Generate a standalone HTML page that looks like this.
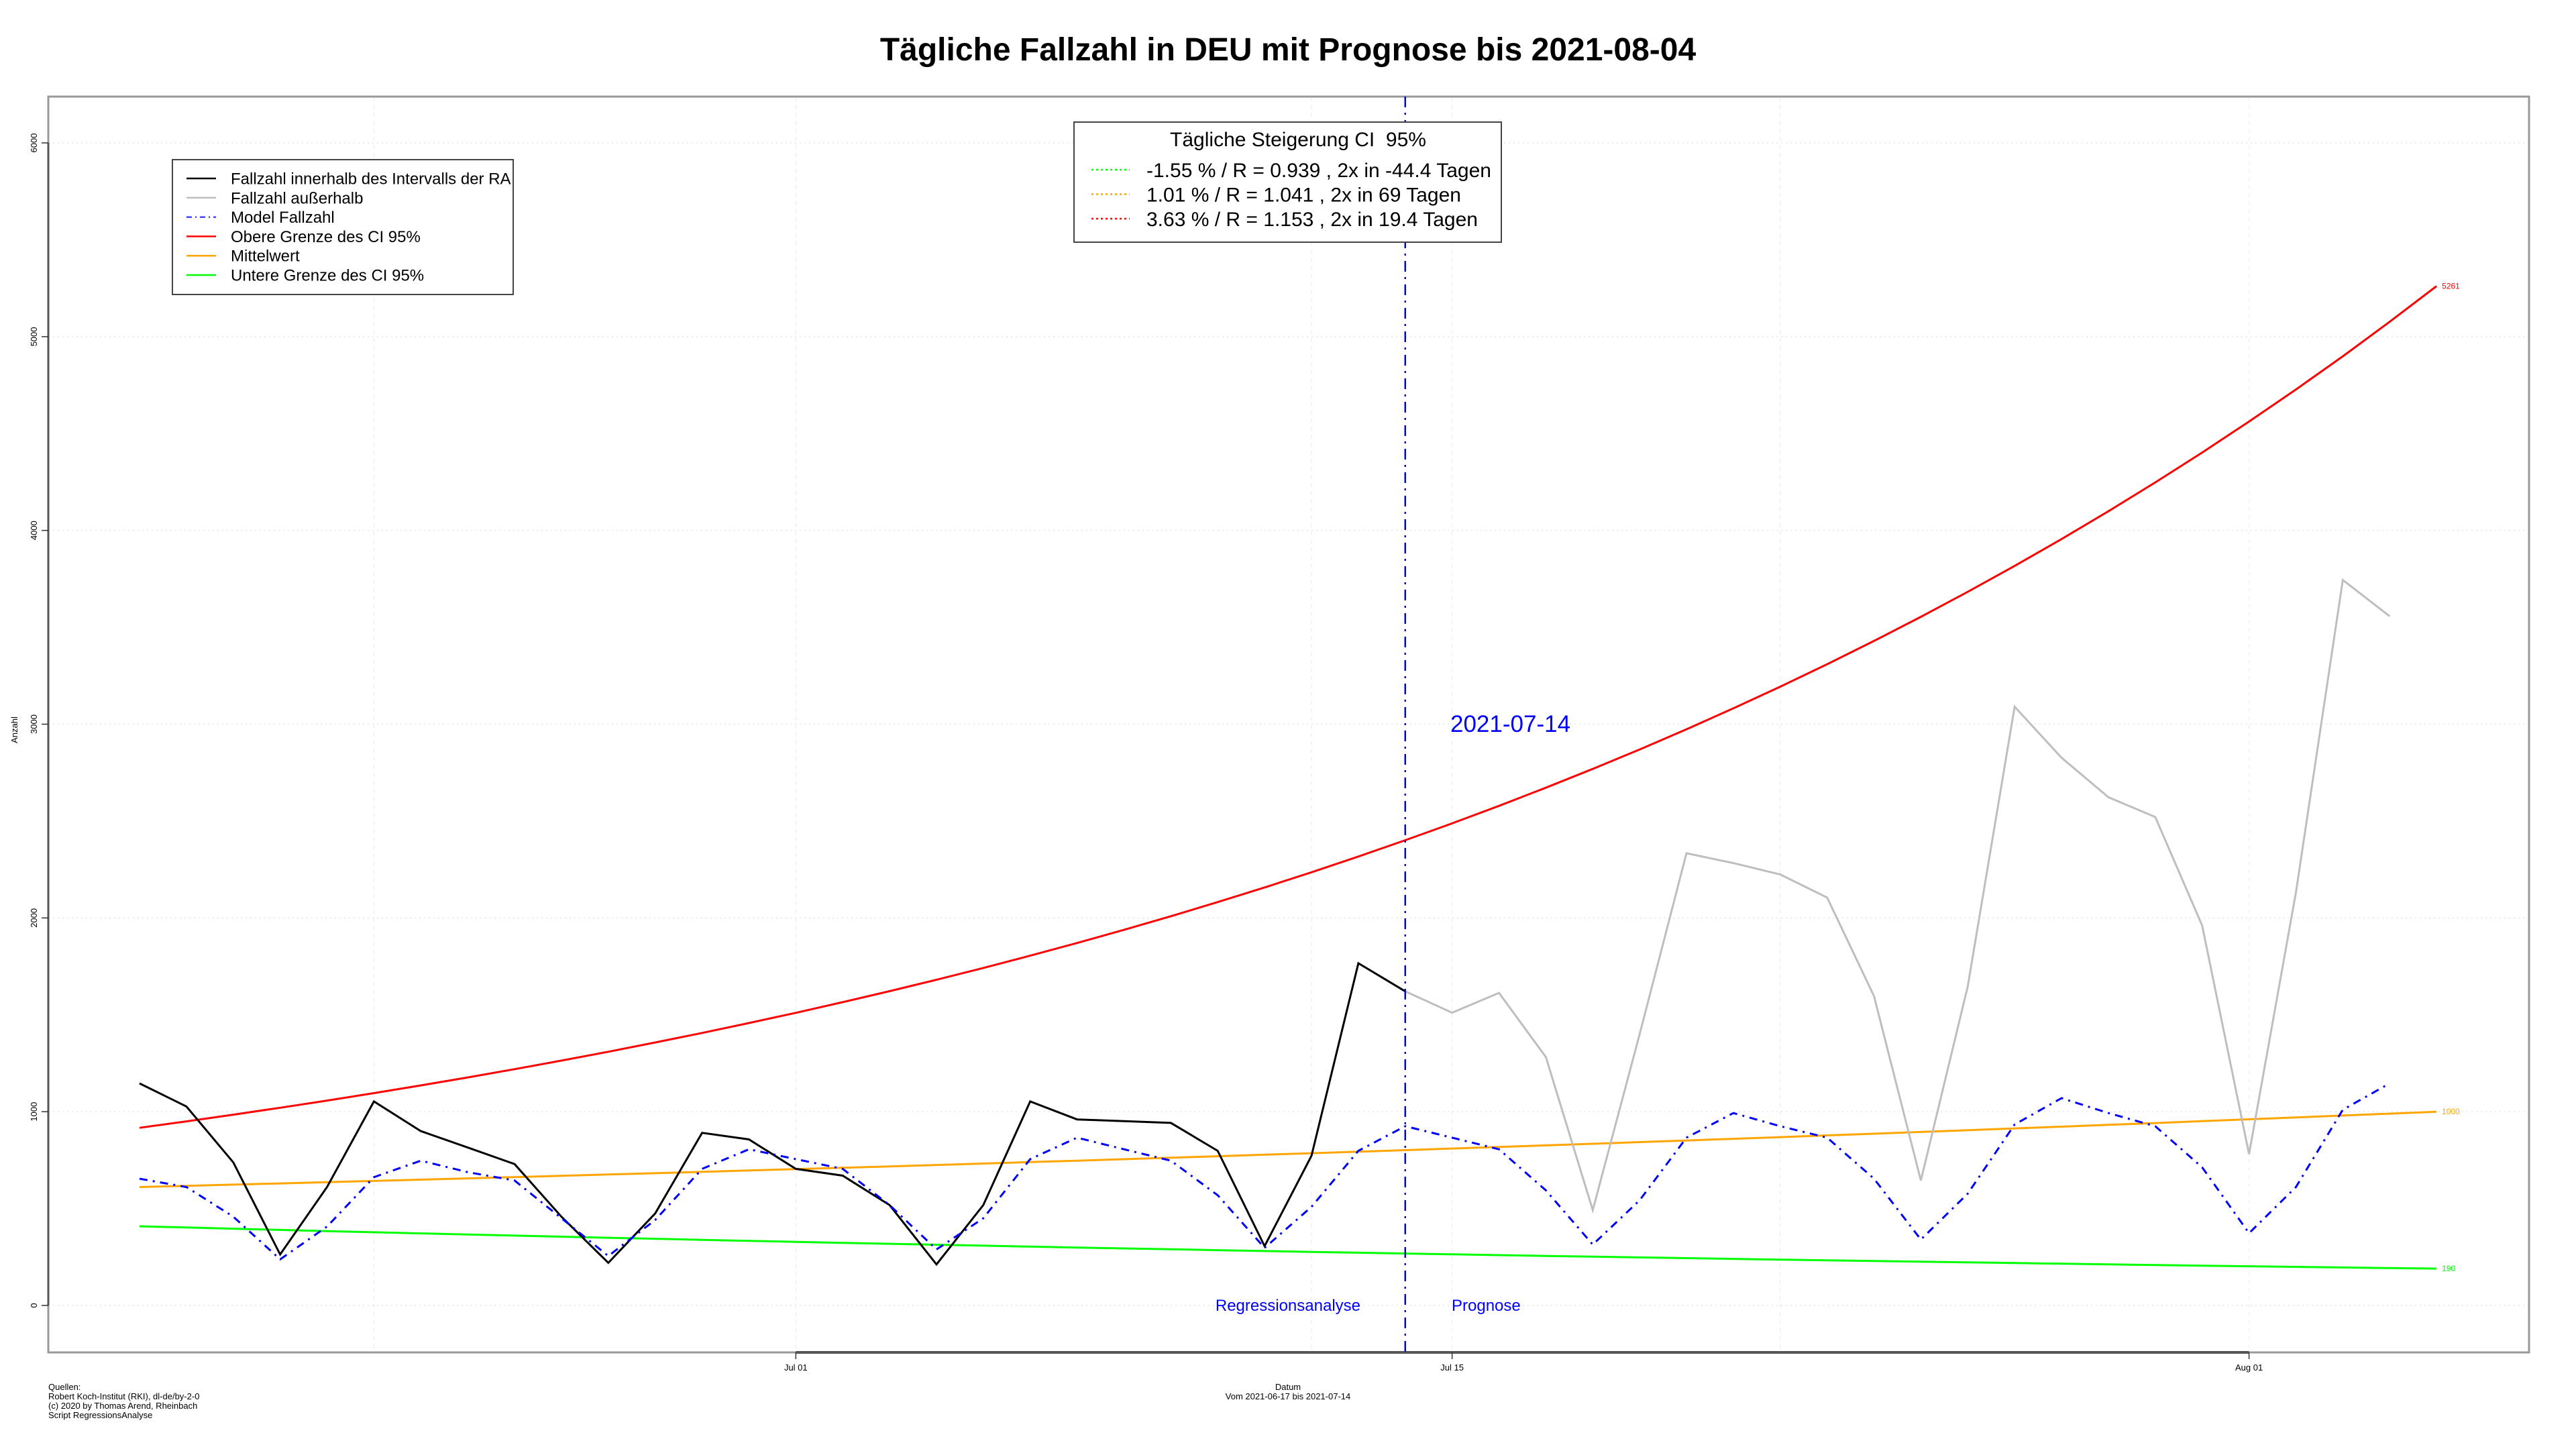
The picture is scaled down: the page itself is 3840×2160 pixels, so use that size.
<!DOCTYPE html>
<html><head><meta charset="utf-8"><style>
html,body{margin:0;padding:0;background:#fff;}
svg{display:block;font-family:"Liberation Sans",sans-serif;}
</style></head><body>
<svg id="chart" width="3840" height="2160" viewBox="0 0 3840 2160" xmlns="http://www.w3.org/2000/svg">
<rect x="0" y="0" width="3840" height="2160" fill="#fff"/>
<text x="1920" y="90" text-anchor="middle" font-size="48" font-weight="bold">Tägliche Fallzahl in DEU mit Prognose bis 2021-08-04</text>
<g id="grid"></g>
<rect x="72" y="144" width="3698" height="1872" fill="none" stroke="#999" stroke-width="3"/>
<g id="axes"></g>
<g id="series"></g>
<g id="legend1">
 <rect x="257" y="238" width="508" height="201" fill="#fff" stroke="#444" stroke-width="2"/>
</g>
<g id="legend2">
 <rect x="1601" y="182" width="637" height="179" fill="#fff" stroke="#444" stroke-width="2"/>
 <text x="1935" y="218" text-anchor="middle" font-size="30">Tägliche Steigerung CI&#160; 95%</text>
</g>
<text x="2162" y="1091" font-size="35" fill="#0000ff">2021-07-14</text>
<text x="2028" y="1954" text-anchor="end" font-size="24" fill="#0000ff">Regressionsanalyse</text>
<text x="2164" y="1954" font-size="24" fill="#0000ff">Prognose</text>
<text x="1920" y="2072" text-anchor="middle" font-size="13">Datum</text>
<text x="1920" y="2086" text-anchor="middle" font-size="13">Vom 2021-06-17 bis 2021-07-14</text>
<g font-size="13">
 <text x="72" y="2072">Quellen:</text>
 <text x="72" y="2086">Robert Koch-Institut (RKI), dl-de/by-2-0</text>
 <text x="72" y="2100">(c) 2020 by Thomas Arend, Rheinbach</text>
 <text x="72" y="2114">Script RegressionsAnalyse</text>
</g>
<text transform="translate(26,1088) rotate(-90)" text-anchor="middle" font-size="13">Anzahl</text>
</svg>
<script>
// ---- data ----
const startDate = "2021-06-17";
const observedIn = [1146,1027,738,263,611,1053,900,815,730,458,220,475,891,857,705,670,518,212,518,1053,960,951,942,798,306,772,1766,1621];
const observedOut = [1621,1511,1613,1282,492,1400,2334,2283,2224,2105,1596,645,1647,3090,2827,2623,2521,1961,781,2131,3744,3557];
const modelValues = [654,611,458,238,407,662,747,688,645,450,255,441,705,806,755,705,518,289,450,755,866,806,747,569,297,509,798,925,866,806,594,314,543,866,993,925,866,654,340,577,934,1070,993,925,713,373,611,1010,1146];
const ciRates = [-1.55, 1.01, 3.63];          // % per day (lower, mean, upper)
const ciEndValues = [190, 1000, 5261];        // value on last curve day
const ciColors = ["#00ff00","#ffa500","#ff0000"];
const ciNames = ["lower-ci","mean","upper-ci"];
const ciLegendText = ["-1.55 % / R = 0.939 , 2x in -44.4 Tagen","1.01 % / R = 1.041 , 2x in 69 Tagen","3.63 % / R = 1.153 , 2x in 19.4 Tagen"];
const yTicks = [0,1000,2000,3000,4000,5000,6000];
const xTickLabels = ["Jul 01","Jul 15","Aug 01"];
const xTickDays = [14,28,45];
const curveDays = 49;
const splitDay = 27;

// ---- scales ----
const X0 = 208, PXD = 69.88;
const Y0 = 1946, PXV = 0.28883;
const x = d => X0 + d*PXD;
const y = v => Y0 - v*PXV;
const NS = "http://www.w3.org/2000/svg";
function mk(tag, attrs, parent){const e=document.createElementNS(NS,tag);for(const k in attrs)e.setAttribute(k,attrs[k]);parent.appendChild(e);return e;}
const grid=document.getElementById('grid'), axes=document.getElementById('axes'), series=document.getElementById('series');

// grid
yTicks.forEach(t=>{
 const l=mk('line',{x1:72,x2:3770,y1:y(t),y2:y(t),stroke:'#e4e4e4','stroke-width':1.5,'stroke-dasharray':'2,5'},grid);
 
 
});
[5,14,25,28,35,45].forEach(d=>{
 const l=mk('line',{x1:x(d),x2:x(d),y1:144,y2:2016,stroke:'#f0f0f0','stroke-width':1.5,'stroke-dasharray':'6,6'},grid);
 
 
});
// axes
mk('line',{x1:72,x2:72,y1:y(0),y2:y(6000),stroke:'#555','stroke-width':3},axes);
mk('line',{x1:x(xTickDays[0]),x2:x(xTickDays[xTickDays.length-1]),y1:2016,y2:2016,stroke:'#555','stroke-width':4},axes);
yTicks.forEach(t=>{
 mk('line',{x1:62,x2:72,y1:y(t),y2:y(t),stroke:'#333','stroke-width':1.5},axes);
 const tx=mk('text',{transform:`translate(55,${y(t)}) rotate(-90)`,'text-anchor':'middle','font-size':13},axes);
 tx.textContent=t;
 
 
});
xTickDays.forEach((d,i)=>{
 mk('line',{x1:x(d),x2:x(d),y1:2016,y2:2026,stroke:'#333','stroke-width':1.5},axes);
 const tx=mk('text',{x:x(d),y:2043,'text-anchor':'middle','font-size':13},axes);
 tx.textContent=xTickLabels[i];
 
 
});
function pts(arr,off){return arr.map((v,i)=>x(i+off).toFixed(1)+','+y(v).toFixed(1)).join(' ');}
// CI curves
ciRates.forEach((r,k)=>{
 const g=1+r/100, vals=[];
 for(let d=0; d<=curveDays; d++) vals.push(ciEndValues[k]*Math.pow(g,d-curveDays));
 const p=mk('polyline',{points:pts(vals,0),fill:'none',stroke:ciColors[k],'stroke-width':3},series);
 
 
 const t=mk('text',{x:x(curveDays)+8,y:y(ciEndValues[k])+4,'font-size':12,fill:ciColors[k]},series);
 t.textContent=ciEndValues[k];
 
 
});
const gl=mk('polyline',{points:pts(observedOut,splitDay),fill:'none',stroke:'#bebebe','stroke-width':3},series);


const bl=mk('polyline',{points:pts(observedIn,0),fill:'none',stroke:'#000','stroke-width':3},series);


const ml=mk('polyline',{points:pts(modelValues,0),fill:'none',stroke:'#0000ff','stroke-width':3,'stroke-dasharray':'12,8,3,8'},series);


const vl=mk('line',{x1:x(splitDay),x2:x(splitDay),y1:144,y2:2016,stroke:'#0000ff','stroke-width':2.5,'stroke-dasharray':'16,8,3,8'},series);



// legend 1
const L1=document.getElementById('legend1');
const l1Items=[["Fallzahl innerhalb des Intervalls der RA","#000",""],["Fallzahl außerhalb","#bebebe",""],["Model Fallzahl","#4444ff","8,5,2,5"],["Obere Grenze des CI 95%","#ff0000",""],["Mittelwert","#ffa500",""],["Untere Grenze des CI 95%","#00ff00",""]];
l1Items.forEach((it,i)=>{
 const cy=266+i*28.8;
 const ln=mk('line',{x1:278,x2:322,y1:cy,y2:cy,stroke:it[1],'stroke-width':2.5},L1);
 if(it[2]) ln.setAttribute('stroke-dasharray',it[2]);
 const t=mk('text',{x:344,y:cy+8.5,'font-size':24},L1);
 t.textContent=it[0];
 
 
});
// legend 2
const L2=document.getElementById('legend2');
[0,1,2].forEach(i=>{
 const cy=253+i*36.5;
 mk('line',{x1:1627,x2:1684,y1:cy,y2:cy,stroke:ciColors[i],'stroke-width':2.5,'stroke-dasharray':'3,4'},L2);
 const t=mk('text',{x:1709,y:cy+11,'font-size':30},L2);
 t.textContent=ciLegendText[i];
 
 
});
</script>
</body></html>
